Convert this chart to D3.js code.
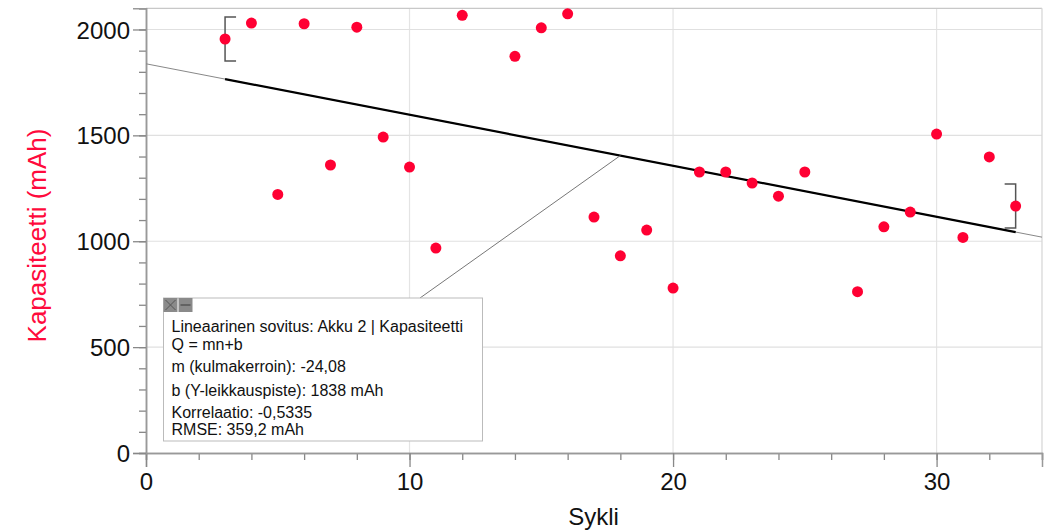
<!DOCTYPE html>
<html>
<head>
<meta charset="utf-8">
<script src="https://cdn.jsdelivr.net/npm/d3@7"></script>
<style>
  body { margin: 0; background: #fff; }
  text { font-family: "Liberation Sans", Arial, sans-serif; }
</style>
</head>
<body>
<svg width="1053" height="531"></svg>
<script>
// Sykli / kapasiteetti (Akku 2)
const sykli = [3, 4, 5, 6, 7, 8, 9, 10, 11, 12, 14, 15, 16, 17, 18, 19, 20, 21, 22, 23, 24, 25, 27, 28, 29, 30, 31, 32, 33];
const kapasiteetti = [1955, 2030, 1221, 2027, 1360, 2011, 1492, 1350, 968, 2067, 1873, 2008, 2074, 1114, 931, 1053, 779, 1327, 1327, 1275, 1213, 1327, 762, 1068, 1138, 1506, 1018, 1398, 1166];
const fitM = -24.08, fitB = 1838;
const xTicks = [0, 10, 20, 30];
const yTicks = [0, 500, 1000, 1500, 2000];
const boxLines = [
  "Lineaarinen sovitus: Akku 2 | Kapasiteetti",
  "Q = mn+b",
  "m (kulmakerroin): -24,08",
  "b (Y-leikkauspiste): 1838 mAh",
  "Korrelaatio: -0,5335",
  "RMSE: 359,2 mAh"
];

const svg = d3.select("svg");
const margin = {top: 8.3, right: 11, bottom: 78, left: 146};
const width = 1053, height = 531;

const x = d3.scaleLinear().domain([0, 34]).range([margin.left, width - margin.right]);
const y = d3.scaleLinear().domain([0, 2100]).range([height - margin.bottom, margin.top]);

// gridlines
const grid = svg.append("g").attr("class", "grid");
grid.selectAll("line.gx").data(xTicks.slice(1)).enter().append("line")
    .attr("x1", d => x(d)).attr("x2", d => x(d))
    .attr("y1", y(0)).attr("y2", y(2100))
    .style("stroke", "#e4e4e4").style("stroke-width", 1.2);
grid.selectAll("line.gy").data(yTicks.slice(1)).enter().append("line")
    .attr("x1", x(0)).attr("x2", x(34))
    .attr("y1", d => y(d)).attr("y2", d => y(d))
    .style("stroke", "#e0e0e0").style("stroke-width", 1.2);
// frame top & right
grid.append("line").attr("x1", x(0)).attr("x2", x(34)).attr("y1", y(2100)).attr("y2", y(2100))
    .style("stroke", "#c8c8c8").style("stroke-width", 1.3);
grid.append("line").attr("x1", x(34)).attr("x2", x(34)).attr("y1", y(0)).attr("y2", y(2100))
    .style("stroke", "#d8d8d8").style("stroke-width", 1.3);

// axes
const xAxisMinor = d3.axisBottom(x).tickValues(d3.range(0, 35, 2)).tickSize(7).tickFormat("");
const xAxis = d3.axisBottom(x).tickValues(xTicks).tickSize(14).tickPadding(6).tickFormat(d3.format("d"));
const yAxisMinor = d3.axisLeft(y).tickValues(d3.range(0, 2101, 100)).tickSize(7).tickFormat("");
const yAxis = d3.axisLeft(y).tickValues(yTicks).tickSize(13).tickPadding(3).tickFormat(d3.format("d"));

function styleAxis(g) {
  g.select(".domain").style("stroke", "#999").style("stroke-width", 1.5);
  g.selectAll(".tick line").style("stroke", "#888").style("stroke-width", 1.3);
  g.selectAll(".tick text").style("font-size", "24px").style("fill", "#111");
}

svg.append("g").attr("transform", `translate(0,${y(0)})`).call(xAxisMinor).call(styleAxis);
svg.append("g").attr("transform", `translate(0,${y(0)})`).call(xAxis).call(styleAxis);
svg.append("g").attr("transform", `translate(${x(0)},0)`).call(yAxisMinor).call(styleAxis);
svg.append("g").attr("transform", `translate(${x(0)},0)`).call(yAxis).call(styleAxis)
   .selectAll(".tick text").attr("dy", "0.36em");

// axis titles
svg.append("text").attr("x", 593.5).attr("y", 525)
   .attr("text-anchor", "middle").style("font-size", "24px").style("fill", "#111").text("Sykli");
svg.append("text").attr("transform", "translate(46,235.5) rotate(-90)")
   .attr("text-anchor", "middle").style("font-size", "26px").style("fill", "#ff0a3c").text("Kapasiteetti (mAh)");

// fit lines
const fit = v => fitM * v + fitB;
svg.append("line").attr("x1", x(0)).attr("y1", y(fit(0))).attr("x2", x(34)).attr("y2", y(fit(34)))
   .style("stroke", "#888").style("stroke-width", 1);
const xMin = d3.min(sykli), xMax = d3.max(sykli);
svg.append("line").attr("x1", x(xMin)).attr("y1", y(fit(xMin))).attr("x2", x(xMax)).attr("y2", y(fit(xMax)))
   .style("stroke", "#000").style("stroke-width", 2.2);

// range brackets
const first = [sykli[0], kapasiteetti[0]];
const last = [sykli[sykli.length - 1], kapasiteetti[kapasiteetti.length - 1]];
svg.append("path")
   .attr("d", `M${x(first[0]) + 11},${y(first[1]) - 22}H${x(first[0])}V${y(first[1]) + 22}H${x(first[0]) + 11}`)
   .style("fill", "none").style("stroke", "#555").style("stroke-width", 1.5);
svg.append("path")
   .attr("d", `M${x(last[0]) - 11},${y(last[1]) - 22}H${x(last[0])}V${y(last[1]) + 22}H${x(last[0]) - 11}`)
   .style("fill", "none").style("stroke", "#555").style("stroke-width", 1.5);

// points
svg.append("g").selectAll("circle").data(sykli).enter().append("circle")
   .attr("cx", d => x(d)).attr("cy", (d, i) => y(kapasiteetti[i]))
   .attr("r", 5.5).style("fill", "#ff0033");

// annotation box with connector
const bx = 163.5, by = 298, bw = 319, bh = 143;
svg.append("line").attr("x1", 420).attr("y1", by).attr("x2", x(18)).attr("y2", y(fit(18)))
   .style("stroke", "#777").style("stroke-width", 1);
svg.append("rect").attr("x", bx).attr("y", by).attr("width", bw).attr("height", bh)
   .style("fill", "#fff").style("stroke", "#bbb").style("stroke-width", 1);
svg.append("rect").attr("x", bx).attr("y", by).attr("width", 14).attr("height", 14).style("fill", "#8a8a8a");
svg.append("rect").attr("x", bx + 15).attr("y", by).attr("width", 14).attr("height", 14).style("fill", "#8a8a8a");
svg.append("path").attr("d", `M${bx + 2},${by + 2}L${bx + 12},${by + 12}M${bx + 12},${by + 2}L${bx + 2},${by + 12}`)
   .style("stroke", "#555").style("stroke-width", 1);
svg.append("line").attr("x1", bx + 17).attr("x2", bx + 27).attr("y1", by + 7).attr("y2", by + 7)
   .style("stroke", "#555").style("stroke-width", 1.5);

const baselines = [332, 350, 372, 396, 418, 435];
svg.append("g").selectAll("text").data(boxLines).enter().append("text")
   .attr("x", bx + 8).attr("y", (d, i) => baselines[i])
   .style("font-size", "16px").style("fill", "#111").text(d => d);
</script>
</body>
</html>
